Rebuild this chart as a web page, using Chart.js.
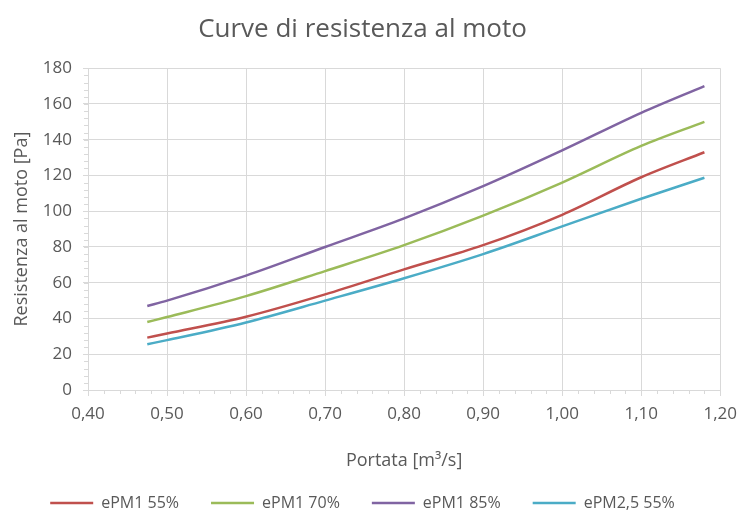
<!DOCTYPE html>
<html>
<head>
<meta charset="utf-8">
<title>Curve di resistenza al moto</title>
<script src="https://cdn.jsdelivr.net/npm/chart.js@4.4.1/dist/chart.umd.min.js"></script>
<style>
    html, body { margin: 0; padding: 0; background: #ffffff; }
    #chart { display: block; }
</style>
</head>
<body>
<canvas id="chart" width="745" height="513"></canvas>
<script>
    // Portata [m3/s]
    var portata = [0.475, 0.50, 0.60, 0.70, 0.80, 0.90, 1.00, 1.10, 1.18];

    // Resistenza al moto [Pa]
    var ePM1_55 = [29.3, 31.6, 41, 53.5, 67.5, 81, 98, 119, 133];
    var ePM1_70 = [38, 40.8, 52.5, 66.5, 81, 97.5, 116, 136.5, 150];
    var ePM1_85 = [47, 50, 64, 80, 96, 114, 134, 155, 170];
    var ePM25_55 = [25.6, 27.9, 37.8, 50, 62.5, 76, 91.5, 107, 118.7];

    var serieNames = ["ePM1 55%", "ePM1 70%", "ePM1 85%", "ePM2,5 55%"];
    var serieColors = ["#c0504d", "#9bbb59", "#8064a2", "#4bacc6"];

    var textColor = "#595959";
    var gridColor = "#d9d9d9";
    var fontName = "'Open Sans', Lato, sans-serif";

    function points(values) {
        return values.map(function (v, i) {
            return {x: portata[i], y: v};
        });
    }

    // Excel style minor tick marks
    var minorTicks = {
        id: "minorTicks",
        beforeDatasetsDraw: function (chart) {
            var ctx = chart.ctx;
            var xs = chart.scales.x;
            var ys = chart.scales.y;
            ctx.save();
            ctx.strokeStyle = gridColor;
            ctx.lineWidth = 1;
            ctx.beginPath();
            for (var v = 0; v <= 180; v += 4) {
                var py = Math.round(ys.getPixelForValue(v)) + 0.5;
                ctx.moveTo(xs.left - 4, py);
                ctx.lineTo(xs.left, py);
            }
            for (var i = 0; i <= 40; i++) {
                var px = Math.round(xs.getPixelForValue(0.40 + i * 0.02)) + 0.5;
                ctx.moveTo(px, ys.bottom);
                ctx.lineTo(px, ys.bottom + 4);
            }
            ctx.stroke();
            ctx.restore();
        }
    };

    var datasets = [ePM1_55, ePM1_70, ePM1_85, ePM25_55].map(function (serie, i) {
        return {
            label: serieNames[i],
            data: points(serie),
            borderColor: serieColors[i],
            backgroundColor: serieColors[i],
            borderWidth: 2.5,
            pointRadius: 0,
            pointStyle: "line",
            cubicInterpolationMode: "monotone",
            fill: false
        };
    });

    var ctx = document.getElementById("chart").getContext("2d");
    var myChart = new Chart(ctx, {
        type: "line",
        data: {datasets: datasets},
        plugins: [minorTicks],
        options: {
            responsive: false,
            animation: false,
            layout: {padding: {left: 0, right: 20, top: 0, bottom: -8}},
            plugins: {
                title: {
                    display: true,
                    text: "Curve di resistenza al moto",
                    color: textColor,
                    font: {family: fontName, size: 26, weight: "normal"},
                    padding: {top: 14, bottom: 23}
                },
                legend: {
                    position: "bottom",
                    labels: {
                        color: textColor,
                        font: {family: fontName, size: 16},
                        usePointStyle: true,
                        pointStyle: "line",
                        pointStyleWidth: 43,
                        padding: 32
                    }
                },
                tooltip: {enabled: false}
            },
            scales: {
                x: {
                    type: "linear",
                    min: 0.40,
                    max: 1.20,
                    afterFit: function (scale) { scale.height = 73; },
                    grid: {color: gridColor, tickLength: 6, drawTicks: true},
                    border: {color: gridColor},
                    ticks: {
                        stepSize: 0.1,
                        color: textColor,
                        padding: 8,
                        font: {family: fontName, size: 17},
                        callback: function (value) {
                            return value.toFixed(2).replace(".", ",");
                        }
                    },
                    title: {
                        display: true,
                        text: "Portata [m³/s]",
                        color: textColor,
                        font: {family: fontName, size: 18},
                        padding: {top: 0, bottom: -9}
                    }
                },
                y: {
                    min: 0,
                    max: 180,
                    afterFit: function (scale) { scale.width = 88; },
                    grid: {color: gridColor, tickLength: 5},
                    border: {color: gridColor},
                    ticks: {
                        stepSize: 20,
                        color: textColor,
                        padding: 11,
                        font: {family: fontName, size: 17}
                    },
                    title: {
                        display: true,
                        text: "Resistenza al moto [Pa]",
                        color: textColor,
                        font: {family: fontName, size: 18},
                        padding: {top: 11, bottom: 0}
                    }
                }
            }
        }
    });
</script>
</body>
</html>
